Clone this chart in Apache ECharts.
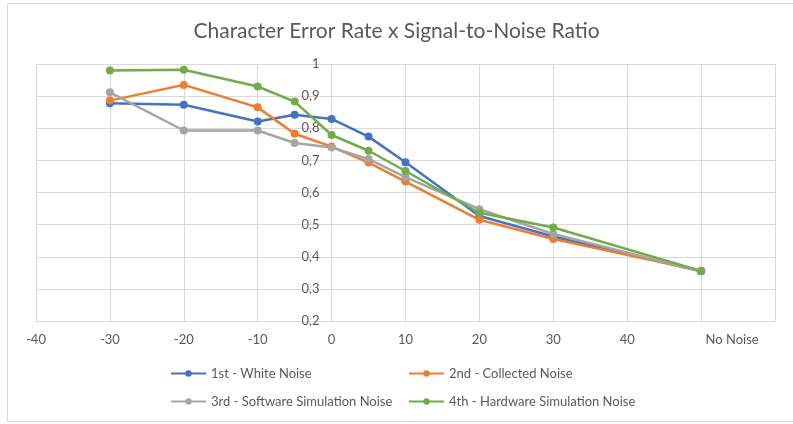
<!DOCTYPE html>
<html>
<head>
<meta charset="utf-8">
<script src="https://cdn.jsdelivr.net/npm/echarts@6/dist/echarts.min.js"></script>
<style>
  html, body { margin: 0; padding: 0; background: #fff; }
  #chart { width: 793px; height: 424px; }
</style>
</head>
<body>
<div id="chart"></div>
<script>
// SNR values (50 stands for "No Noise")
const snr = [-30, -20, -10, -5, 0, 5, 10, 20, 30, 50];

const whiteNoise     = [0.878, 0.873, 0.821, 0.842, 0.829, 0.774, 0.694, 0.527, 0.463, 0.355];
const collectedNoise = [0.886, 0.935, 0.865, 0.783, 0.743, 0.693, 0.634, 0.515, 0.455, 0.356];
const softwareNoise  = [0.912, 0.793, 0.793, 0.754, 0.740, 0.704, 0.648, 0.548, 0.471, 0.355];
const hardwareNoise  = [0.980, 0.982, 0.930, 0.883, 0.779, 0.730, 0.667, 0.537, 0.491, 0.356];

const seriesNames = [
  '1st - White Noise',
  '2nd - Collected Noise',
  '3rd - Software Simulation Noise',
  '4th - Hardware Simulation Noise'
];

const xTickValues = [-40, -30, -20, -10, 0, 10, 20, 30, 40, 50, 60];
const xTickLabels = ['-40', '-30', '-20', '-10', '0', '10', '20', '30', '40', 'No Noise', ''];
const yTickValues = [0.2, 0.3, 0.4, 0.5, 0.6, 0.7, 0.8, 0.9, 1];
const yTickLabels = ['0,2', '0,3', '0,4', '0,5', '0,6', '0,7', '0,8', '0,9', '1'];

const colors = ['#4472C4', '#ED7D31', '#A5A5A5', '#70AD47'];
const txt = '#595959';
const gridColor = '#d9d9d9';
const font = 'Lato';

const chart = echarts.init(document.getElementById('chart'));

const pairs = ys => snr.map((x, i) => [x, ys[i]]);
const lineSeries = (name, ys, color) => ({
  name: name,
  type: 'line',
  data: pairs(ys),
  symbol: 'circle',
  symbolSize: 8,
  color: color,
  lineStyle: { width: 2.5, color: color },
  itemStyle: { color: color },
  emphasis: { disabled: true },
  animation: false
});

const gridBox = { left: 36, right: 18, top: 64, bottom: 103 };

const yLabel = v => {
  const i = yTickValues.findIndex(t => Math.abs(t - v) < 1e-6);
  return i >= 0 ? yTickLabels[i] : '';
};

const option = {
  backgroundColor: '#fff',
  textStyle: { fontFamily: font },
  title: {
    text: 'Character Error Rate x Signal-to-Noise Ratio',
    left: 'center',
    top: 16,
    textStyle: { fontFamily: font, fontSize: 21, fontWeight: 'normal', color: txt }
  },
  legend: [
    {
      data: [seriesNames[0], seriesNames[2]],
      orient: 'vertical',
      left: 165,
      top: 362,
      itemWidth: 35,
      itemHeight: 8,
      itemGap: 15,
      textStyle: { fontFamily: font, fontSize: 13, color: txt }
    },
    {
      data: [seriesNames[1], seriesNames[3]],
      orient: 'vertical',
      left: 403,
      top: 362,
      itemWidth: 35,
      itemHeight: 8,
      itemGap: 15,
      textStyle: { fontFamily: font, fontSize: 13, color: txt }
    }
  ],
  grid: [
    Object.assign({ containLabel: false }, gridBox),
    // second grid only carries the y axis drawn through x = 0
    Object.assign({ containLabel: false }, gridBox)
  ],
  xAxis: [
    {
      type: 'value',
      gridIndex: 0,
      min: -40,
      max: 60,
      interval: 10,
      axisLine: { show: true, lineStyle: { color: gridColor } },
      axisTick: { show: false },
      splitLine: { show: true, lineStyle: { color: gridColor, width: 1 } },
      axisLabel: {
        color: txt,
        fontSize: 13,
        fontFamily: font,
        margin: 12,
        showMaxLabel: true,
        showMinLabel: true,
        formatter: v => {
          const i = xTickValues.indexOf(Math.round(v));
          const s = i >= 0 ? xTickLabels[i] : '';
          return s === 'No Noise' ? '{nn|' + s + '}' : s;
        },
        rich: { nn: { padding: [0, 0, 0, 62], color: txt, fontSize: 13, fontFamily: font } }
      }
    },
    {
      type: 'value',
      gridIndex: 1,
      min: 0,
      max: 1,
      show: false
    }
  ],
  yAxis: [
    {
      type: 'value',
      gridIndex: 0,
      min: 0.2,
      max: 1,
      interval: 0.1,
      axisLine: { show: false },
      axisTick: { show: false },
      axisLabel: { show: false },
      splitLine: { show: true, lineStyle: { color: gridColor, width: 1 } }
    },
    {
      type: 'value',
      gridIndex: 1,
      min: 0.2,
      max: 1,
      interval: 0.1,
      position: 'left',
      axisLine: { show: true, onZero: false, lineStyle: { color: gridColor } },
      axisTick: { show: false },
      splitLine: { show: false },
      axisLabel: { color: txt, fontSize: 13, fontFamily: font, margin: 12, formatter: yLabel }
    }
  ],
  graphic: [
    {
      type: 'rect',
      shape: { x: 7.5, y: 3.5, width: 800, height: 418 },
      style: { fill: 'none', stroke: gridColor, lineWidth: 1 },
      silent: true,
      z: -1
    }
  ],
  series: [
    lineSeries(seriesNames[0], whiteNoise, colors[0]),
    lineSeries(seriesNames[1], collectedNoise, colors[1]),
    lineSeries(seriesNames[2], softwareNoise, colors[2]),
    lineSeries(seriesNames[3], hardwareNoise, colors[3])
  ]
};

chart.setOption(option);

// move the y axis grid so its left edge sits on x = 0 of the main axis
const zeroX = chart.convertToPixel({ xAxisIndex: 0 }, 0);
chart.setOption({
  grid: [{}, { left: zeroX, right: 18, top: gridBox.top, bottom: gridBox.bottom }]
});
</script>
</body>
</html>
